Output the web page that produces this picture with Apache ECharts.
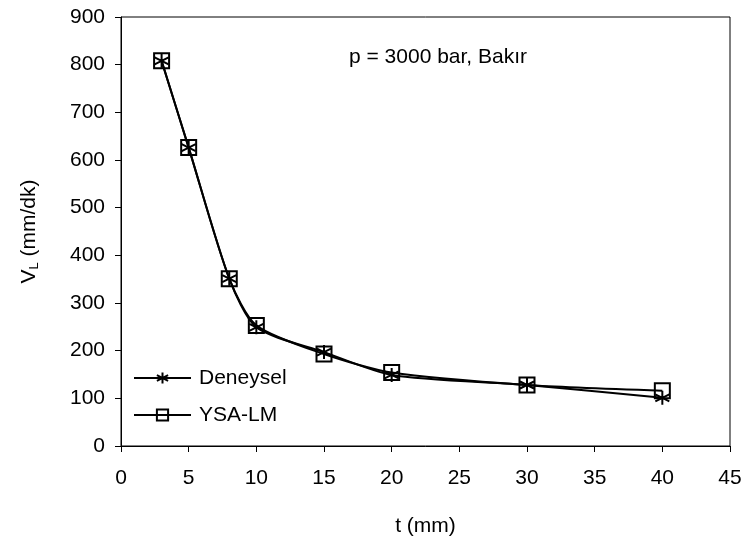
<!DOCTYPE html>
<html>
<head>
<meta charset="utf-8">
<script src="https://cdn.jsdelivr.net/npm/echarts@6/dist/echarts.min.js"></script>
<style>
  html, body { margin: 0; padding: 0; background: #fff; }
  #main { width: 746px; height: 543px; }
</style>
</head>
<body>
<div id="main"></div>
<script>
// t (mm) values
var thickness = [3, 5, 8, 10, 15, 20, 30, 40];
// measured speeds (mm/dk)
var deneysel = [808, 626, 351, 249, 197, 149, 128, 101];
// ANN (LM) predictions
var ysaLm = [808, 626, 351, 253, 193, 154, 128, 116];

var toPairs = function (xs, ys) {
    var out = [];
    for (var i = 0; i < xs.length; i++) {
        out.push([xs[i], ys[i]]);
    }
    return out;
};

var fontFam = '"Liberation Sans", Arial, sans-serif';
var starPath = 'path://M5,0L5,10M0.7,2.5L9.3,7.5M9.3,2.5L0.7,7.5';

var myChart = echarts.init(document.getElementById('main'));

var option = {
    animation: false,
    backgroundColor: '#fff',
    title: {
        text: 'p = 3000 bar, Bakır',
        left: 349,
        top: 47,
        padding: 0,
        textStyle: { fontFamily: fontFam, fontSize: 21, fontWeight: 'normal', color: '#000' }
    },
    grid: {
        left: 121,
        top: 17,
        right: 16,
        bottom: 97,
        show: true,
        borderColor: '#000',
        borderWidth: 1
    },
    legend: {
        orient: 'vertical',
        left: 133,
        top: 367,
        padding: 0,
        itemWidth: 57,
        itemHeight: 14,
        itemGap: 15,
        textStyle: { fontFamily: fontFam, fontSize: 21, lineHeight: 22, color: '#000', padding: [0, 0, 0, 3] },
        data: ['Deneysel', 'YSA-LM']
    },
    xAxis: {
        type: 'value',
        min: 0,
        max: 45,
        interval: 5,
        name: 't (mm)',
        nameLocation: 'middle',
        nameGap: 70,
        nameTextStyle: { fontFamily: fontFam, fontSize: 21, color: '#000' },
        axisLine: { lineStyle: { color: '#000', width: 1 } },
        axisTick: { show: true, length: 6, lineStyle: { color: '#000' } },
        axisLabel: { fontFamily: fontFam, fontSize: 21, color: '#000', margin: 22 },
        splitLine: { show: false }
    },
    yAxis: {
        type: 'value',
        min: 0,
        max: 900,
        interval: 100,
        name: 'V{sub|L} (mm/dk)',
        nameLocation: 'middle',
        nameGap: 80,
        nameTextStyle: {
            fontFamily: fontFam, fontSize: 21, color: '#000',
            rich: {
                sub: { fontFamily: fontFam, fontSize: 13, color: '#000', verticalAlign: 'bottom', padding: [10, 0, 0, 0] }
            }
        },
        axisLine: { show: true, lineStyle: { color: '#000', width: 1 } },
        axisTick: { show: true, length: 6, lineStyle: { color: '#000' } },
        axisLabel: { fontFamily: fontFam, fontSize: 21, color: '#000', margin: 16 },
        splitLine: { show: false }
    },
    series: [
        {
            name: 'Deneysel',
            type: 'line',
            data: toPairs(thickness, deneysel),
            smooth: 0.25,
            symbol: starPath,
            symbolSize: 14,
            lineStyle: { color: '#000', width: 2 },
            itemStyle: { color: '#000', borderColor: '#000', borderWidth: 2 },
            z: 3
        },
        {
            name: 'YSA-LM',
            type: 'line',
            data: toPairs(thickness, ysaLm),
            smooth: 0.25,
            symbol: 'rect',
            symbolSize: 15,
            lineStyle: { color: '#000', width: 2 },
            itemStyle: { color: 'rgba(255,255,255,0)', borderColor: '#000', borderWidth: 2 },
            z: 2
        }
    ]
};

myChart.setOption(option);
</script>
</body>
</html>
